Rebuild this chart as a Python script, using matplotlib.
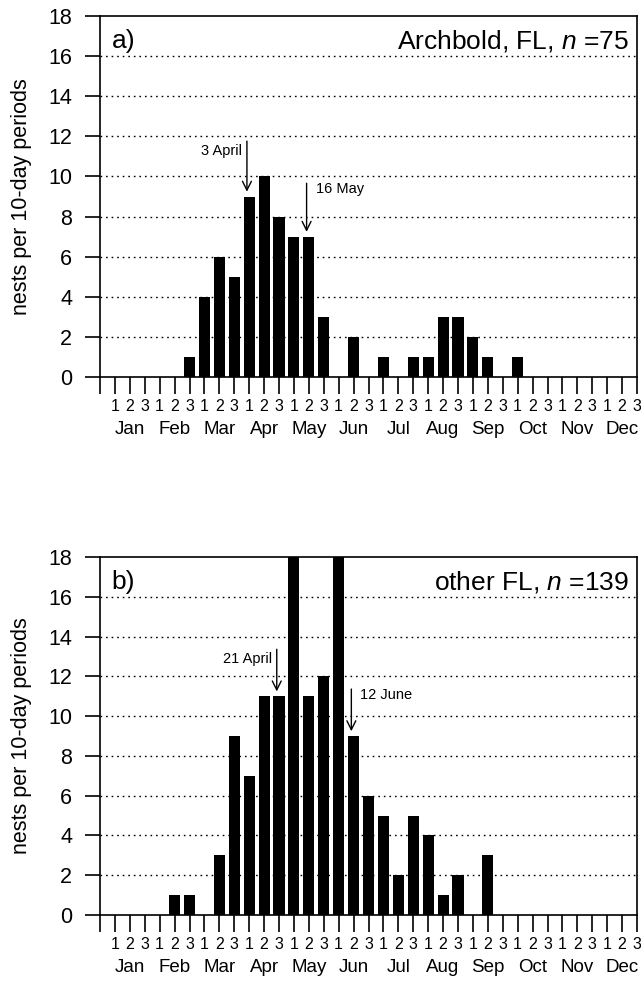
import numpy as np
import matplotlib
matplotlib.use("Agg")
import matplotlib.pyplot as plt

plt.rcParams['font.family'] = ['Liberation Sans', 'DejaVu Sans']
plt.rcParams['mathtext.fontset'] = 'custom'
plt.rcParams['mathtext.rm'] = 'Liberation Sans'
plt.rcParams['mathtext.it'] = 'Liberation Sans:italic'

months = ["Jan", "Feb", "Mar", "Apr", "May", "Jun",
          "Jul", "Aug", "Sep", "Oct", "Nov", "Dec"]
period_labels = ["1", "2", "3"] * 12

# nests per 10-day period, Jan 1 .. Dec 3
archbold = [0, 0, 0,  0, 0, 1,  4, 6, 5,  9, 10, 8,
            7, 7, 3,  0, 2, 0,  1, 0, 1,  1, 3, 3,
            2, 1, 0,  1, 0, 0,  0, 0, 0,  0, 0, 0]
other_fl = [0, 0, 0,  0, 1, 1,  0, 3, 9,  7, 11, 11,
            18, 11, 12,  18, 9, 6,  5, 2, 5,  4, 1, 2,
            0, 3, 0,  0, 0, 0,  0, 0, 0,  0, 0, 0]

# (label, period index 1..36, arrow start value, arrow tip value)
archbold_marks = [("3 April", 10, 11.9, 9.1), ("16 May", 14, 9.8, 7.1)]
other_marks = [("21 April", 12, 13.5, 11.1), ("12 June", 17, 11.5, 9.1)]

panels = [
    ("a)", "Archbold, FL, $n$ =75", archbold, archbold_marks),
    ("b)", "other FL, $n$ =139", other_fl, other_marks),
]

W, H = 641, 982
fig = plt.figure(figsize=(W / 100, H / 100), dpi=100)
boxes = [(100, 16, 637, 377), (100, 557, 637, 915)]

for (tag, title, vals, marks), (x0, y0, x1, y1) in zip(panels, boxes):
    ax = fig.add_axes([x0 / W, 1 - y1 / H, (x1 - x0) / W, (y1 - y0) / H])
    pos = np.arange(1, 37)
    ax.bar(pos, vals, width=0.74, color="black", zorder=3)
    ax.set_xlim(0, 36)
    ax.set_ylim(0, 18)

    ax.set_yticks(np.arange(0, 19, 2))
    for g in np.arange(2, 18, 2):
        ax.axhline(g, color="black", lw=1.0, ls=(0, (1.2, 2.8)), zorder=1)

    # period ticks 1/2/3 and month names underneath
    ax.xaxis.remove_overlapping_locs = False
    ax.set_xticks(np.arange(0, 37))
    ax.set_xticklabels([""] + period_labels)
    ax.set_xticks(np.arange(12) * 3 + 2, minor=True)
    ax.set_xticklabels(months, minor=True)
    ax.tick_params(axis="x", which="major", direction="out", length=12,
                   width=1.2, labelsize=11.5, pad=4)
    ax.tick_params(axis="x", which="minor", length=0, labelsize=13.5, pad=32)
    ax.tick_params(axis="y", direction="out", length=11, width=1.2,
                   labelsize=15.5, pad=9)

    for s in ax.spines.values():
        s.set_linewidth(1.2)

    ax.set_ylabel("nests per 10-day periods", fontsize=15.5, labelpad=12)

    ax.text(0.022, 0.93, tag, transform=ax.transAxes, fontsize=19,
            ha="left", va="center")
    ax.text(0.985, 0.93, title, transform=ax.transAxes, fontsize=19,
            ha="right", va="center")

    for i, (lab, p, y_start, y_tip) in enumerate(marks):
        ax.annotate("", xy=(p - 0.15, y_tip), xytext=(p - 0.15, y_start),
                    arrowprops=dict(arrowstyle="->", lw=1.0, color="black",
                                    mutation_scale=16), zorder=4)
        if i == 0:
            ax.text(p - 0.45, y_start - 0.65, lab, fontsize=10.5,
                    ha="right", va="center", zorder=4)
        else:
            ax.text(p + 0.45, y_start - 0.45, lab, fontsize=10.5,
                    ha="left", va="center", zorder=4)

fig.savefig("out.png", dpi=100)
